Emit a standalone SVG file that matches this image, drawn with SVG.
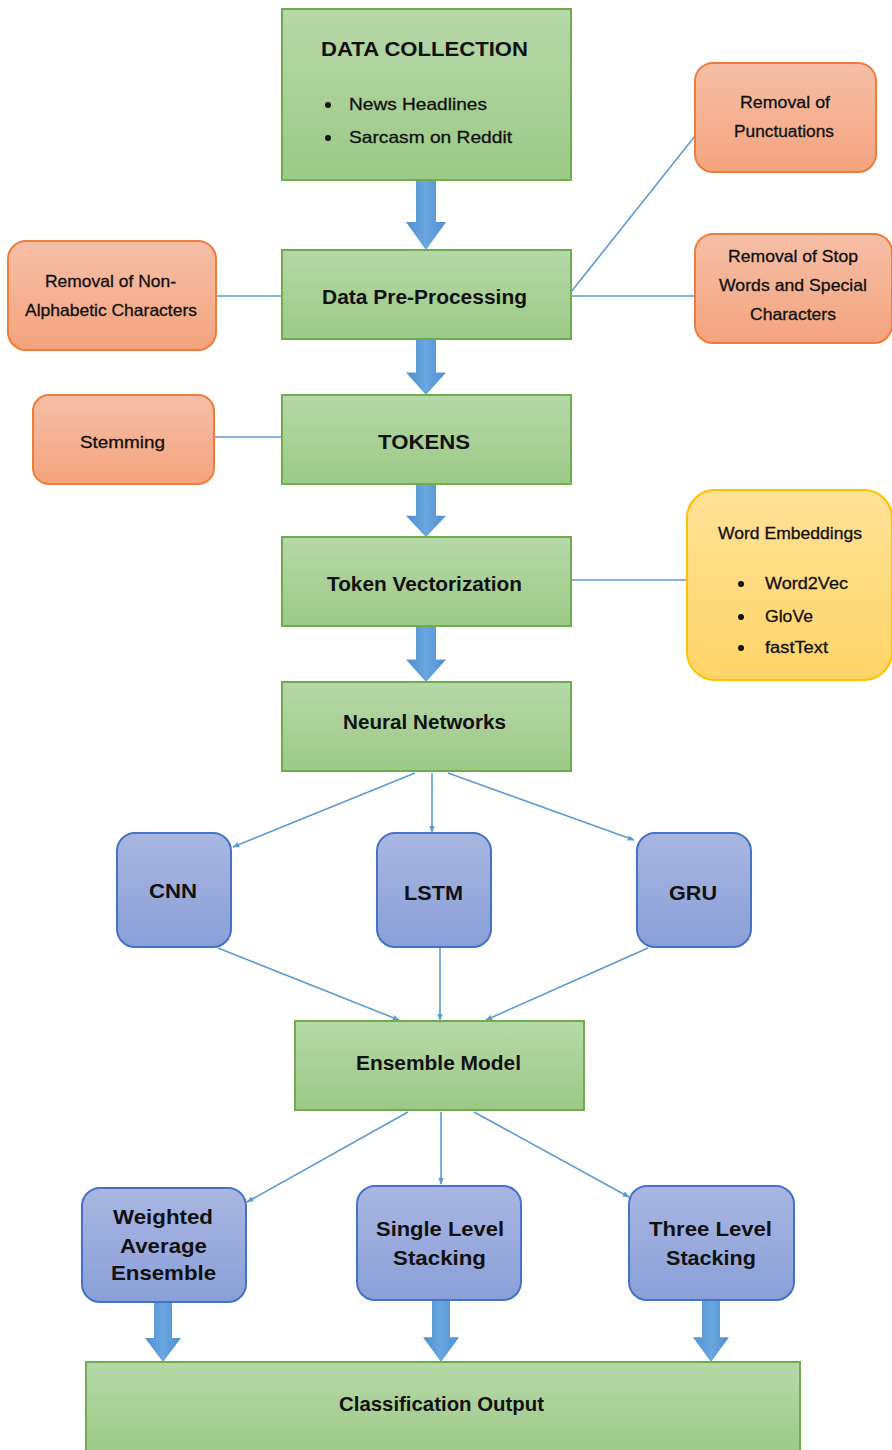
<svg xmlns="http://www.w3.org/2000/svg" width="892" height="1450" viewBox="0 0 892 1450">
<defs>
<linearGradient id="gG" x1="0" y1="0" x2="0" y2="1"><stop offset="0" stop-color="#b7d8a9"/><stop offset="1" stop-color="#9cc986"/></linearGradient>
<linearGradient id="gO" x1="0" y1="0" x2="0" y2="1"><stop offset="0" stop-color="#f6bfa7"/><stop offset="1" stop-color="#f4a37d"/></linearGradient>
<linearGradient id="gY" x1="0" y1="0" x2="0" y2="1"><stop offset="0" stop-color="#ffe299"/><stop offset="1" stop-color="#ffd466"/></linearGradient>
<linearGradient id="gB" x1="0" y1="0" x2="0" y2="1"><stop offset="0" stop-color="#a9b6e1"/><stop offset="1" stop-color="#8a9fd8"/></linearGradient>
<linearGradient id="gA" x1="0" y1="0" x2="1" y2="0"><stop offset="0" stop-color="#4f8fd0"/><stop offset="0.5" stop-color="#6aa6e0"/><stop offset="1" stop-color="#4f8fd0"/></linearGradient>
<marker id="ah" viewBox="0 0 10 10" refX="9" refY="5" markerWidth="7" markerHeight="7" orient="auto" markerUnits="userSpaceOnUse"><path d="M0,1 L10,5 L0,9 z" fill="#5b9bd5"/></marker>
<path id="fat" d="M-10,0 L10,0 L10,30 L20,30 L0,50 L-20,30 L-10,30 z"/>
</defs>
<style>
.g{fill:url(#gG);stroke:#6fad4a;stroke-width:2}
.o{fill:url(#gO);stroke:#ee7d3b;stroke-width:2}
.y{fill:url(#gY);stroke:#ffc000;stroke-width:2}
.b{fill:url(#gB);stroke:#4472c4;stroke-width:2}
.ln{stroke:#5b9bd5;stroke-width:1.6;fill:none}
.ar{stroke:#5b9bd5;stroke-width:1.6;fill:none;marker-end:url(#ah)}
.fa{fill:url(#gA)}
text{font-family:"Liberation Sans",Arial,sans-serif;fill:#111;text-anchor:middle;lengthAdjust:spacingAndGlyphs}
.t{font-size:19.5px;font-weight:bold}
.s{font-size:16.5px;stroke:#111;stroke-width:0.3}
.bt{font-size:21px;font-weight:bold}
.bl{text-anchor:start}
</style>
<g id="connectors">
<use href="#fat" class="fa" transform="translate(426,180) scale(1,1.4)"/>
<use href="#fat" class="fa" transform="translate(426,339) scale(1,1.12)"/>
<use href="#fat" class="fa" transform="translate(426,484) scale(1,1.06)"/>
<use href="#fat" class="fa" transform="translate(426,626) scale(1,1.12)"/>
<use href="#fat" class="fa" transform="translate(163,1302) scale(0.9,1.2)"/>
<use href="#fat" class="fa" transform="translate(441,1300) scale(0.9,1.24)"/>
<use href="#fat" class="fa" transform="translate(711,1300) scale(0.9,1.24)"/>
<line class="ln" x1="571" y1="292" x2="695" y2="136"/>
<line class="ln" x1="571" y1="296" x2="695" y2="296"/>
<line class="ln" x1="216" y1="296" x2="282" y2="296"/>
<line class="ln" x1="214" y1="437" x2="282" y2="437"/>
<line class="ln" x1="571" y1="580" x2="687" y2="580"/>
<line class="ar" x1="415" y1="773" x2="233" y2="847"/>
<line class="ar" x1="432" y1="773" x2="432" y2="832"/>
<line class="ar" x1="448" y1="773" x2="634" y2="840"/>
<line class="ar" x1="218" y1="948" x2="399" y2="1020"/>
<line class="ar" x1="440" y1="948" x2="440" y2="1020"/>
<line class="ar" x1="648" y1="948" x2="486" y2="1020"/>
<line class="ar" x1="408" y1="1112" x2="247" y2="1202"/>
<line class="ar" x1="441" y1="1112" x2="441" y2="1184"/>
<line class="ar" x1="474" y1="1112" x2="629" y2="1197"/>
</g>
<g id="data-collection"><rect class="g" x="282" y="9" width="289" height="171"/>
<text class="t" x="424.5" y="56" textLength="207" lengthAdjust="spacingAndGlyphs">DATA COLLECTION</text>
<circle cx="328" cy="105" r="3" fill="#111"/><text class="s bl" x="349" y="110" textLength="138" lengthAdjust="spacingAndGlyphs">News Headlines</text>
<circle cx="328" cy="138" r="3" fill="#111"/><text class="s bl" x="349" y="143" textLength="163" lengthAdjust="spacingAndGlyphs">Sarcasm on Reddit</text></g>
<g id="preprocessing"><rect class="g" x="282" y="250" width="289" height="89"/><text class="t" x="424.5" y="304" textLength="205" lengthAdjust="spacingAndGlyphs">Data Pre-Processing</text></g>
<g id="tokens"><rect class="g" x="282" y="395" width="289" height="89"/><text class="t" x="424" y="449" textLength="92" lengthAdjust="spacingAndGlyphs">TOKENS</text></g>
<g id="token-vectorization"><rect class="g" x="282" y="537" width="289" height="89"/><text class="t" x="424.5" y="591" textLength="195" lengthAdjust="spacingAndGlyphs">Token Vectorization</text></g>
<g id="neural-networks"><rect class="g" x="282" y="682" width="289" height="89"/><text class="t" x="424.5" y="729" textLength="163" lengthAdjust="spacingAndGlyphs">Neural Networks</text></g>
<g id="ensemble-model"><rect class="g" x="295" y="1021" width="289" height="89"/><text class="t" x="438.5" y="1070" textLength="165" lengthAdjust="spacingAndGlyphs">Ensemble Model</text></g>
<g id="classification-output"><rect class="g" x="86" y="1362" width="714" height="96"/><text class="t" x="441.5" y="1411" textLength="205" lengthAdjust="spacingAndGlyphs">Classification Output</text></g>
<g id="removal-punctuations"><rect class="o" x="695" y="63" width="181" height="109" rx="18"/><text class="s" x="785" y="108" textLength="90" lengthAdjust="spacingAndGlyphs">Removal of</text><text class="s" x="784" y="137" textLength="100" lengthAdjust="spacingAndGlyphs">Punctuations</text></g>
<g id="removal-stopwords"><rect class="o" x="695" y="234" width="197" height="109" rx="18"/><text class="s" x="793" y="262" textLength="130" lengthAdjust="spacingAndGlyphs">Removal of Stop</text><text class="s" x="793" y="291" textLength="148" lengthAdjust="spacingAndGlyphs">Words and Special</text><text class="s" x="793" y="320" textLength="86" lengthAdjust="spacingAndGlyphs">Characters</text></g>
<g id="removal-nonalpha"><rect class="o" x="8" y="241" width="208" height="109" rx="18"/><text class="s" x="110.5" y="287" textLength="131" lengthAdjust="spacingAndGlyphs">Removal of Non-</text><text class="s" x="111" y="316" textLength="172" lengthAdjust="spacingAndGlyphs">Alphabetic Characters</text></g>
<g id="stemming"><rect class="o" x="33" y="395" width="181" height="89" rx="16"/><text class="s" x="122.5" y="448" textLength="85" lengthAdjust="spacingAndGlyphs">Stemming</text></g>
<g id="word-embeddings"><rect class="y" x="687" y="490" width="205" height="190" rx="28"/>
<text class="s" x="790" y="539" textLength="144" lengthAdjust="spacingAndGlyphs">Word Embeddings</text>
<circle cx="741" cy="584" r="3" fill="#111"/><text class="s bl" x="765" y="589" textLength="83" lengthAdjust="spacingAndGlyphs">Word2Vec</text>
<circle cx="741" cy="617" r="3" fill="#111"/><text class="s bl" x="765" y="622" textLength="48" lengthAdjust="spacingAndGlyphs">GloVe</text>
<circle cx="741" cy="648" r="3" fill="#111"/><text class="s bl" x="765" y="653" textLength="63" lengthAdjust="spacingAndGlyphs">fastText</text></g>
<g id="cnn"><rect class="b" x="117" y="833" width="114" height="114" rx="18"/><text class="bt" x="173" y="898" textLength="48" lengthAdjust="spacingAndGlyphs">CNN</text></g>
<g id="lstm"><rect class="b" x="377" y="833" width="114" height="114" rx="18"/><text class="bt" x="433.5" y="900" textLength="59" lengthAdjust="spacingAndGlyphs">LSTM</text></g>
<g id="gru"><rect class="b" x="637" y="833" width="114" height="114" rx="18"/><text class="bt" x="693" y="900" textLength="48" lengthAdjust="spacingAndGlyphs">GRU</text></g>
<g id="weighted-average"><rect class="b" x="82" y="1188" width="164" height="114" rx="18"/><text class="bt" x="163" y="1224" textLength="100" lengthAdjust="spacingAndGlyphs">Weighted</text><text class="bt" x="163.5" y="1253" textLength="87" lengthAdjust="spacingAndGlyphs">Average</text><text class="bt" x="163.5" y="1280" textLength="105" lengthAdjust="spacingAndGlyphs">Ensemble</text></g>
<g id="single-level"><rect class="b" x="357" y="1186" width="164" height="114" rx="18"/><text class="bt" x="440" y="1236" textLength="128" lengthAdjust="spacingAndGlyphs">Single Level</text><text class="bt" x="439.5" y="1265" textLength="93" lengthAdjust="spacingAndGlyphs">Stacking</text></g>
<g id="three-level"><rect class="b" x="629" y="1186" width="165" height="114" rx="18"/><text class="bt" x="710.5" y="1236" textLength="123" lengthAdjust="spacingAndGlyphs">Three Level</text><text class="bt" x="711" y="1265" textLength="90" lengthAdjust="spacingAndGlyphs">Stacking</text></g>
</svg>
